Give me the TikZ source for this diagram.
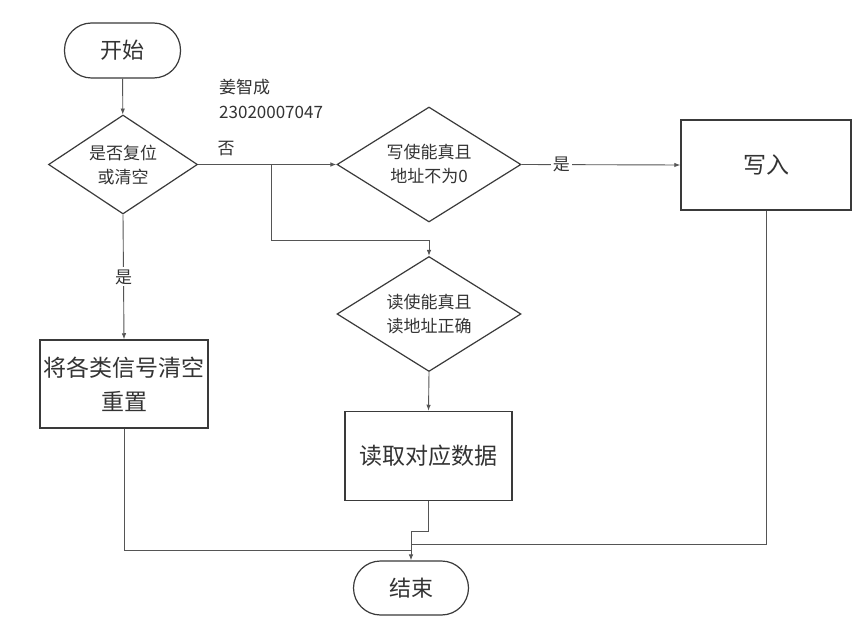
\documentclass[tikz,border=0pt]{standalone}
\usepackage{fontspec}
\setmainfont{Noto Sans CJK SC}
\usetikzlibrary{shapes.geometric,arrows.meta}
\definecolor{ln}{HTML}{3A3A3A}
\definecolor{cn}{HTML}{555555}
\definecolor{tx}{HTML}{333333}
\tikzset{
  base/.style={draw=ln, line width=1.2pt, text=tx, inner sep=0pt, align=center},
  term/.style={base, rounded corners=27pt, minimum width=116pt, minimum height=55pt, font=\fontsize{22}{27}\selectfont},
  dec/.style={base, diamond, aspect=1.6, font=\fontsize{17}{24}\selectfont},
  proc/.style={base, rectangle, line width=1.5pt, minimum width=168pt, minimum height=88pt, font=\fontsize{23}{34}\selectfont},
  conn/.style={draw=cn, line width=0.9pt},
  arr/.style={conn, -{Latex[length=6pt,width=4.5pt]}},
  lab/.style={text=tx, font=\fontsize{17}{20}\selectfont, inner sep=2pt},
  onl/.style={lab, fill=white}
}
\begin{document}
\begin{tikzpicture}[x=1pt,y=-1pt]
\useasboundingbox[fill=white] (0,0) rectangle (865,631);
\node[term] (start) at (122.5,50.5) {开始};
\node[dec, minimum width=149pt, minimum height=99pt] (d1) at (123,164.5) {是否复位\\或清空};
\node[dec, minimum width=184pt, minimum height=115pt] (d2) at (429,164.5) {写使能真且\\地址不为0};
\node[dec, minimum width=184pt, minimum height=115pt] (d3) at (429,314) {读使能真且\\读地址正确};
\node[proc, minimum width=170pt, minimum height=90pt] (write) at (766,165) {写入};
\node[proc] (reset) at (124,384) {将各类信号清空\\重置};
\node[proc, minimum width=167pt, minimum height=89pt] (read) at (428.5,456) {读取对应数据};
\node[term, minimum width=115pt, minimum height=54pt] (end) at (411,588) {结束};

\node[lab, anchor=west] (name) at (217,87) {姜智成};
\node[lab, anchor=west] (id) at (217,112) {23020007047};
\node[lab] (no) at (226,149) {否};

\coordinate (br) at (271,164.5);
\coordinate (bend) at (429,240);
\coordinate (j1) at (411,550.5);
\coordinate (j2) at (411,544);
\coordinate (j3) at (411,531.5);

\draw[arr] (start) -- (d1);
\draw[arr] (d1.east) -- (d2.west);
\draw[arr] (br) |- (bend) -- (d3.north);
\draw[arr] (d1.south) -- node[onl] {是} (reset.north);
\draw[arr] (d2.east) -- node[onl, pos=0.25] {是} (write.west);
\draw[arr] (d3.south) -- (read.north);
\draw[conn] (reset.south) |- (j1);
\draw[conn] (write.south) |- (j2);
\draw[arr] (read.south) |- (j3) -- (end.north);
\end{tikzpicture}
\end{document}
